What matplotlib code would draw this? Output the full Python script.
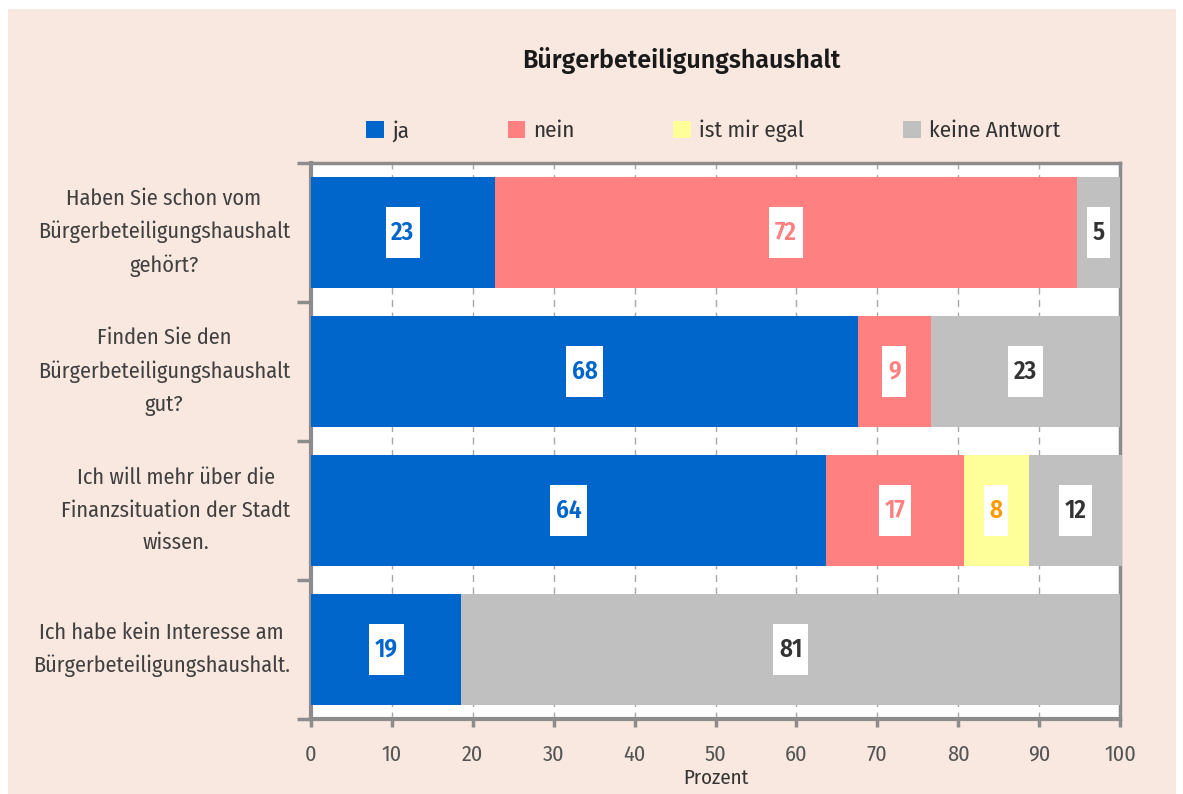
import matplotlib
matplotlib.use("Agg")
import numpy as np
import matplotlib.pyplot as plt
from matplotlib.patches import Patch, Rectangle
from matplotlib.path import Path
from matplotlib.ticker import FixedLocator

plt.rcParams["font.family"] = ["Fira Sans Condensed", "Liberation Sans Narrow", "DejaVu Sans"]
TITLE_FONT = ["Fira Sans", "Liberation Sans", "DejaVu Sans"]

# data (percent, bar lengths as drawn)
questions = [
    "Haben Sie schon vom\nBürgerbeteiligungshaushalt\ngehört?",
    "Finden Sie den\nBürgerbeteiligungshaushalt\ngut?",
    "Ich will mehr über die\nFinanzsituation der Stadt\nwissen.",
    "Ich habe kein Interesse am\nBürgerbeteiligungshaushalt.",
]
series_names = ["ja", "nein", "ist mir egal", "keine Antwort"]
ja = [22.7, 67.6, 63.7, 18.6]
nein = [72.0, 9.0, 17.0, 0.0]
egal = [0.0, 0.0, 8.0, 0.0]
keine = [5.3, 23.4, 11.6, 81.4]
x_ticks = [0, 10, 20, 30, 40, 50, 60, 70, 80, 90, 100]

bar_colors = ["#0066CC", "#FF8080", "#FFFF99", "#C0C0C0"]
text_colors = ["#0066CC", "#FF8080", "#FF9900", "#333333"]
bg = "#F9E8E0"
grey = "#8C8C8C"
ink = "#404040"


def label_box(x0, y0, width, height, mutation_size):
    # white box, narrow at the sides and tall above/below the number
    px = 0.23 * mutation_size
    py = 0.52 * mutation_size
    x0, x1 = x0 - px, x0 + width + px
    y0, y1 = y0 - py, y0 + height + py
    return Path([(x0, y0), (x1, y0), (x1, y1), (x0, y1), (x0, y0)], closed=True)


fig = plt.figure(figsize=(11.83, 7.94), dpi=100)
fig.patch.set_facecolor("white")
fig.patches.append(Rectangle((8 / 1183, 0), 1168 / 1183, 1 - 9 / 794,
                             transform=fig.transFigure, facecolor=bg,
                             edgecolor="none", zorder=-10))

ax = fig.add_axes([311 / 1183, 1 - 719 / 794, 809 / 1183, 556 / 794])
ax.set_facecolor("white")

y = np.arange(len(questions))
data = [ja, nein, egal, keine]
left = np.zeros(len(questions))
for vals, name, bc, tc in zip(data, series_names, bar_colors, text_colors):
    vals = np.array(vals, dtype=float)
    bars = ax.barh(y, vals, left=left, height=0.8, color=bc, label=name,
                   zorder=3, clip_on=False)
    for b, v in zip(bars, vals):
        if v <= 0:
            continue
        ax.text(b.get_x() + b.get_width() / 2, b.get_y() + b.get_height() / 2,
                f"{round(v):d}", ha="center", va="center", color=tc,
                fontsize=18, fontweight="semibold", zorder=5,
                bbox=dict(boxstyle=label_box, facecolor="white", edgecolor="none"))
    left += vals

ax.set_xlim(0, 100)
ax.set_ylim(len(questions) - 0.5, -0.5)
ax.set_xticks(x_ticks)
ax.set_xticklabels([str(t) for t in x_ticks], fontsize=16, color="#555555")
ax.set_yticks(y)
ax.set_yticklabels(questions, fontsize=16, color=ink,
                   linespacing=1.67, multialignment="center")
for t in ax.get_yticklabels():
    t.set_verticalalignment("center")
ax.yaxis.set_minor_locator(FixedLocator(np.arange(-0.5, len(questions), 1.0)))
ax.tick_params(axis="y", which="major", length=0, pad=15)
ax.tick_params(axis="y", which="minor", length=10, width=2.5, color=grey)
ax.tick_params(axis="x", which="major", length=6, width=2.5, color=grey, pad=12)

ax.grid(axis="x", color="#A8A8A8", linestyle=(0, (5, 4)), linewidth=1, zorder=0)
for side in ["left", "bottom", "top", "right"]:
    ax.spines[side].set_color(grey)
    ax.spines[side].set_linewidth(3)
ax.spines["top"].set_linewidth(2.5)
ax.spines["right"].set_linewidth(2.5)

ax.set_xlabel("Prozent", fontsize=15, color="#333333", labelpad=2)

fig.text(681 / 1183, 1 - 68 / 794, "Bürgerbeteiligungshaushalt", ha="center",
         va="baseline", fontsize=18, fontweight="semibold", color="#1A1A1A",
         family=TITLE_FONT)

handles = [Patch(facecolor=c, edgecolor="none") for c in bar_colors]
fig.legend(handles, series_names, loc="center", bbox_to_anchor=(713 / 1183, 1 - 131 / 794),
           ncol=4, frameon=False, prop={"size": 16.5}, handlelength=0.78,
           handleheight=0.78, handletextpad=0.35, columnspacing=4.3, labelcolor="#333333")

fig.savefig("out.png", dpi=100, facecolor=fig.get_facecolor())
